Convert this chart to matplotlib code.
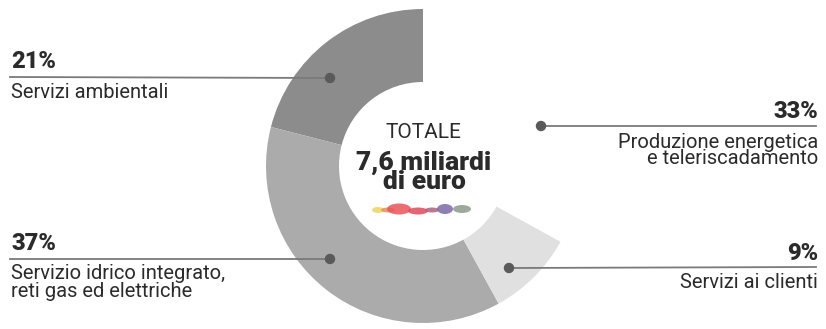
import matplotlib
matplotlib.use("Agg")
import matplotlib.pyplot as plt
from matplotlib.patches import Ellipse, Circle

# ---- data ----
categories = ["Servizi ambientali",
              "Servizio idrico integrato,\nreti gas ed elettriche",
              "Servizi ai clienti",
              "Produzione energetica\ne teleriscadamento"]
shares = [21, 37, 9, 33]
share_labels = ["21%", "37%", "9%", "33%"]
total_title = "TOTALE"
total_value = "7,6 miliardi\ndi euro"

colors = ["#8c8c8c", "#ababab", "#e0e0e0", "#ffffff"]
TXT = "#2b2b2b"
LINE = "#7a7a7a"

W, H = 826, 329
fig = plt.figure(figsize=(W / 100, H / 100), dpi=100)
ax = fig.add_axes([0, 0, 1, 1])

def Y(py):
    return H - py

cx, cy = 423, Y(166)
R, wid = 157, 73
ax.pie(shares, colors=colors, startangle=90, counterclock=True,
       center=(cx, cy), radius=R,
       wedgeprops=dict(width=wid, linewidth=0))
ax.set_xlim(0, W)
ax.set_ylim(0, H)
ax.set_aspect("equal")
ax.axis("off")

font = "Roboto"
# label layout: (dot x, dot y, side, pct y, line y, first text line y, line step, linespacing)
layout = [
    (330, 78, "left", 62, 77, 92, 19, 0.93),
    (330, 259, "left", 243, 259, 273, 19, 0.93),
    (509, 268, "right", 253, 267, 283, 16, 0.8),
    (541, 126, "right", 111, 126, 142, 16, 0.8),
]
for (dx, dy, side, py, ly, ty, step, ls), pct, cat in zip(layout, share_labels, categories):
    ax.add_patch(Circle((dx, Y(dy)), 4.5, color="#5a5a5a", zorder=5))
    if side == "left":
        x0, ha = 11, "left"
        ax.plot([10, dx], [Y(ly), Y(dy)], color=LINE, lw=1.3, zorder=4)
    else:
        x0, ha = 818, "right"
        ax.plot([dx, 816], [Y(dy), Y(ly)], color=LINE, lw=1.3, zorder=4)
    ax.text(x0, Y(py), pct, ha=ha, va="center", fontsize=17,
            fontweight="heavy", family=font, color=TXT)
    n = cat.count("\n")
    ax.text(x0, Y(ty + step * n / 2), cat, ha=ha, va="center", fontsize=14.5,
            family=font, color=TXT, linespacing=ls, multialignment=ha)

# centre text
ax.text(423, Y(132), total_title, ha="center", va="center", fontsize=15,
        family=font, color=TXT)
ax.text(424, Y(172), total_value, ha="center", va="center", fontsize=19,
        fontweight="heavy", family=font, color=TXT, linespacing=0.74)

# decorative colour wave
wave = [(378, 210, 12, 6, "#f3d35a"), (388, 210, 14, 5, "#ee8a5a"),
        (399, 209, 24, 11, "#e9555a"), (418, 211, 20, 7, "#de4a5e"),
        (432, 210, 14, 5, "#b0607a"), (445, 209, 16, 10, "#7a6aa8"),
        (462, 209, 18, 8, "#8d9a8c")]
for x, y, w, h, c in wave:
    ax.add_patch(Ellipse((x, Y(y)), w, h, color=c, alpha=0.85, lw=0))

fig.savefig("out.png", dpi=100)
